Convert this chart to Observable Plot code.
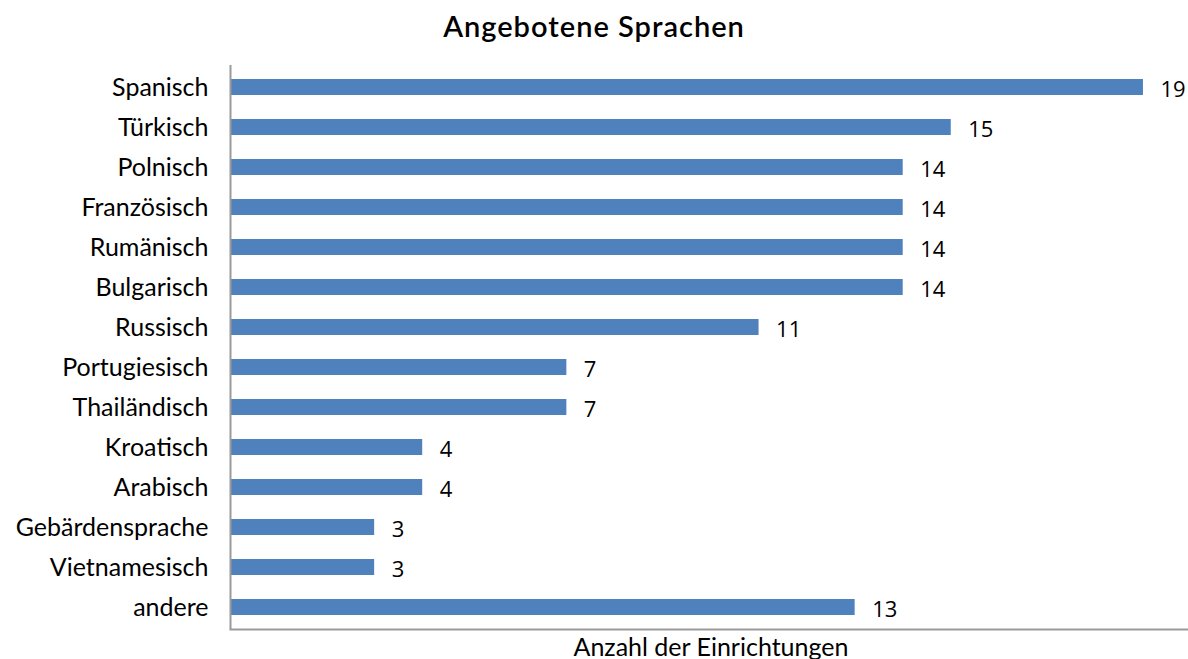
<!DOCTYPE html>
<html>
<head>
<meta charset="utf-8">
<script src="https://cdn.jsdelivr.net/npm/d3@7"></script>
<script src="https://cdn.jsdelivr.net/npm/@observablehq/plot@0.6"></script>
<style>
  html, body { margin: 0; padding: 0; background: #fff; }
  #title { height: 60px; box-sizing: border-box; padding-top: 11px; text-align: center;
           font-family: Lato, sans-serif; font-size: 29px; line-height: 29px; font-weight: 600;
           letter-spacing: 1px; color: #000; }
  #chart svg { display: block; }
</style>
</head>
<body>
<div id="title">Angebotene Sprachen</div>
<div id="chart"></div>
<script>
const languages = ["Spanisch", "Türkisch", "Polnisch", "Französisch", "Rumänisch", "Bulgarisch", "Russisch",
  "Portugiesisch", "Thailändisch", "Kroatisch", "Arabisch", "Gebärdensprache", "Vietnamesisch", "andere"];
const counts = [19, 15, 14, 14, 14, 14, 11, 7, 7, 4, 4, 3, 3, 13];
const xLabel = "Anzahl der Einrichtungen";

const data = languages.map((name, i) => ({name, value: counts[i]}));

const chart = Plot.plot({
  width: 1188,
  height: 599,
  marginTop: 5,
  marginBottom: 30,
  marginLeft: 230,
  marginRight: -3,
  style: {fontFamily: "Lato, sans-serif", fontSize: "25px", color: "#000", background: "#fff", overflow: "visible"},
  x: {domain: [0, 20], axis: null},
  y: {domain: languages, paddingInner: 0.6, paddingOuter: 0.3, label: null},
  marks: [
    Plot.barX(data, {x: "value", y: "name", fill: "#4F81BD"}),
    Plot.text(data, {x: "value", y: "name", text: d => String(d.value), textAnchor: "start", dx: 17, dy: 2,
      fontSize: 22, fontFamily: "'Open Sans', sans-serif", fill: "#000"}),
    Plot.axisY({tickSize: 0, tickPadding: 22, fontSize: 25, label: null}),
    Plot.ruleX([0], {stroke: "#9a9a9a", strokeWidth: 2}),
    Plot.frame({anchor: "bottom", stroke: "#9a9a9a", strokeWidth: 2}),
    Plot.text([xLabel], {frameAnchor: "bottom", lineAnchor: "top", dy: 9, fontSize: 25, fill: "#000"})
  ]
});
document.getElementById("chart").appendChild(chart);
</script>
</body>
</html>
